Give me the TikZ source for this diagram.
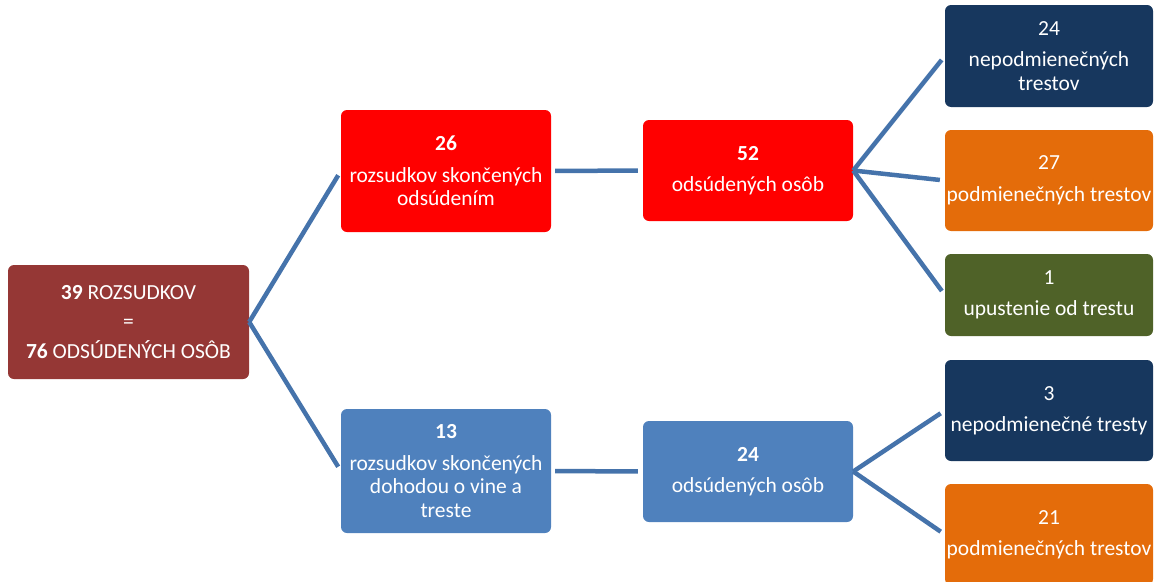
\documentclass[tikz,border=0pt]{standalone}
\usepackage{fontspec}
\setmainfont{Carlito}
\usetikzlibrary{positioning}

\definecolor{rootred}{HTML}{953735}
\definecolor{hotred}{HTML}{FF0000}
\definecolor{steel}{HTML}{4F81BD}
\definecolor{navy}{HTML}{17375E}
\definecolor{amber}{HTML}{E46C0A}
\definecolor{olive}{HTML}{4F6228}
\definecolor{linkblue}{HTML}{4573AB}

\tikzset{
  box/.style={rectangle, rounded corners=6pt, text=white, align=center, inner sep=0pt,
    minimum width=210pt, font=\fontsize{21.5}{23.5}\selectfont},
  link/.style={draw=linkblue, line width=4.5pt, shorten >=5pt},
}

\begin{document}
\begin{tikzpicture}[x=1pt, y=-1pt]
  \useasboundingbox (0,0) rectangle (1158,581);
  % root
  \node[box, fill=rootred, minimum width=241pt, minimum height=114pt] (root) at (128.5,322)
    {\textbf{39} ROZSUDKOV\\[6pt] =\\[6pt] \textbf{76} ODSÚDENÝCH OSÔB};
  % rozsudky
  \node[box, fill=hotred, minimum height=122pt] (rozOds) at (446,171)
    {\textbf{26}\\[8pt] rozsudkov skončených\\ odsúdením};
  \node[box, fill=steel, minimum height=124pt] (rozDoh) at (446,471)
    {\textbf{13}\\[8pt] rozsudkov skončených\\ dohodou o vine a\\ treste};
  % osoby
  \node[box, fill=hotred, minimum height=101pt] (osobA) at (748,170.5)
    {\textbf{52}\\[8pt] odsúdených osôb};
  \node[box, fill=steel, minimum height=101pt] (osobB) at (748,471.5)
    {\textbf{24}\\[8pt] odsúdených osôb};
  % tresty
  \node[box, fill=navy, minimum width=208pt, minimum height=102pt] (nepA) at (1049,56)
    {24\\[8pt] nepodmienečných\\ trestov};
  \node[box, fill=amber, minimum width=208pt, minimum height=101pt] (podA) at (1049,180.5)
    {27\\[8pt] podmienečných trestov};
  \node[box, fill=olive, minimum width=208pt, minimum height=82pt] (upust) at (1049,295)
    {1\\[8pt] upustenie od trestu};
  \node[box, fill=navy, minimum width=208pt, minimum height=101pt] (nepB) at (1049,410.5)
    {3\\[8pt] nepodmienečné tresty};
  \node[box, fill=amber, minimum width=208pt, minimum height=101pt] (podB) at (1049,534.5)
    {21\\[8pt] podmienečných trestov};

  \path[link]
    (root.east) edge (rozOds.west)
                edge (rozDoh.west)
    (rozOds.east) edge[shorten <=4pt] (osobA.west)
    (rozDoh.east) edge[shorten <=4pt] (osobB.west)
    (osobA.east) edge (nepA.west)
                 edge (podA.west)
                 edge (upust.west)
    (osobB.east) edge (nepB.west)
                 edge (podB.west);
\end{tikzpicture}
\end{document}
